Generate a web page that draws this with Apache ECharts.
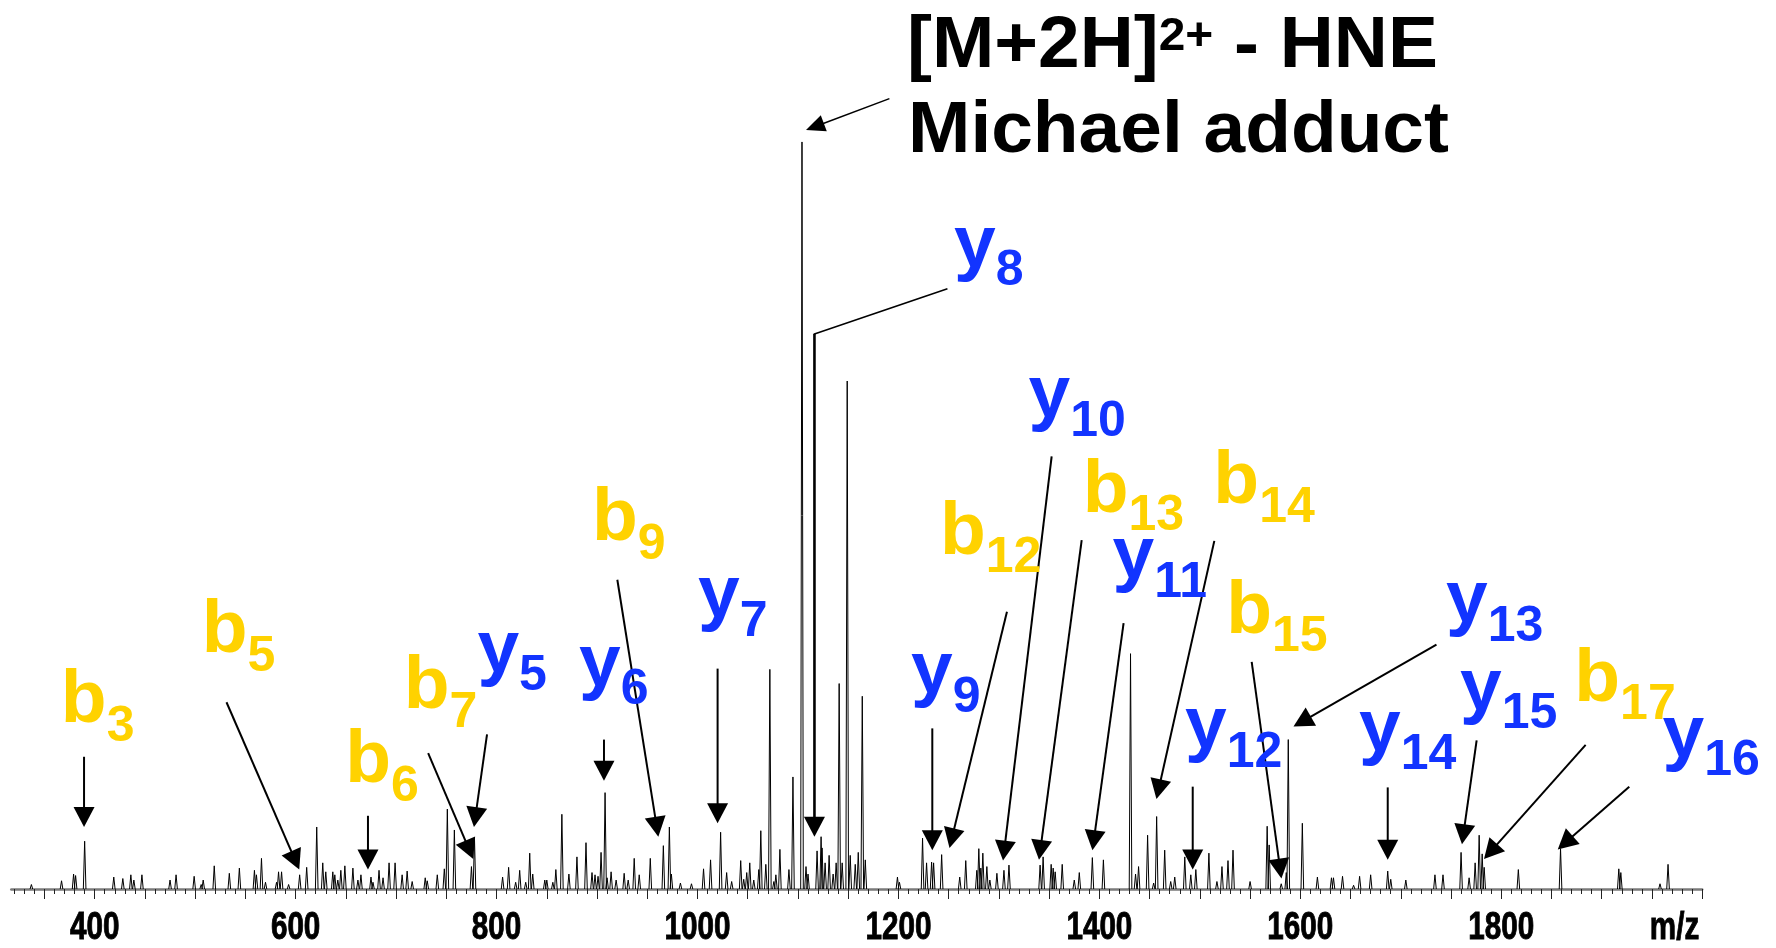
<!DOCTYPE html>
<html>
<head>
<meta charset="utf-8">
<title>MS/MS spectrum</title>
<script src="https://cdn.jsdelivr.net/npm/echarts@6.0.0/dist/echarts.min.js"></script>
<style>
html,body{margin:0;padding:0;background:#ffffff;}
#chart{width:1776px;height:948px;}
</style>
</head>
<body>
<div id="chart"></div>
<script>
// ---------------- data ----------------
const peakMz = [
  337,367,379,381,390,419,428,436,439,447,
  475,481,499,506,508,519,534,544,559,561,
  566,570,581,583,586,593,604,611,621,627,
  630,637,639,642,645,649,657,662,665,675,
  677,683,687,693,699,706,711,716,729,731,
  741,748,751,758,775,778,806,812,819,823,
  829,833,836,848,850,856,859,865,872,880,
  889,895,898,901,904,908,910,914,919,927,
  931,937,942,953,966,972,974,983,994,1006,
  1013,1023,1029,1034,1043,1046,1049,1052,1056,1061,
  1063,1068,1072,1076,1078,1082,1091,1095,1104,1108,
  1110,1119,1123,1124,1127,1131,1135,1138,1141,1144,
  1149,1152,1157,1160,1164,1167,1199,1201,1224,1228,
  1233,1235,1243,1261,1267,1278,1280,1282,1284,1288,
  1291,1298,1305,1310,1341,1344,1352,1354,1356,1363,
  1375,1380,1393,1404,1431,1436,1439,1448,1454,1457,
  1465,1471,1475,1485,1491,1496,1509,1517,1522,1528,
  1533,1550,1567,1569,1581,1586,1588,1602,1617,1631,
  1633,1642,1653,1659,1670,1687,1690,1705,1734,1742,
  1760,1768,1774,1778,1781,1783,1817,1859,1917,1919,
  1958,1966
];
const peakInt = [
  0.6,1.1,2.0,1.8,6.4,1.6,1.4,1.9,1.2,1.9,
  1.2,1.9,1.7,0.6,1.2,3.1,2.1,2.8,2.5,1.9,
  4.1,0.9,0.9,2.3,2.3,0.6,1.9,2.9,8.3,3.5,
  2.3,2.3,1.9,1.2,2.5,3.1,2.8,1.2,1.9,1.6,
  0.9,2.5,1.5,3.5,3.5,1.9,2.4,1.0,1.5,1.1,
  1.9,2.7,10.7,7.9,3.0,6.9,1.6,2.9,0.9,2.5,
  0.9,4.8,2.0,1.2,1.2,0.9,2.6,10.0,2.0,4.3,
  6.2,2.2,1.9,1.7,4.9,12.9,1.5,2.3,1.2,2.1,
  1.2,4.1,1.9,4.1,5.8,8.3,2.0,0.8,0.7,2.7,
  3.9,7.6,2.2,1.0,3.8,1.3,2.2,3.5,1.2,2.6,
  7.8,3.3,29.4,1.0,1.9,5.3,2.6,15.0,100,3.0,
  2.0,5.1,7.0,5.5,3.5,4.5,2.0,3.5,27.5,3.5,
  68,4.5,3.3,4.9,25.8,3.9,1.6,0.9,6.8,3.5,
  3.6,3.5,4.6,1.6,3.8,2.5,5.4,2.8,4.8,3.0,
  1.2,2.1,2.5,3.2,3.2,4.3,3.3,2.8,2.3,3.3,
  1.2,2.2,4.2,3.9,31.5,2.0,3.0,7.2,0.8,9.7,
  5.2,1.0,1.6,4.3,1.9,2.6,4.8,1.0,3.0,3.8,
  5.2,1.0,8.4,5.9,0.7,2.2,20.0,8.8,1.6,1.5,
  1.5,1.7,0.5,1.7,1.9,2.4,1.3,1.2,1.9,1.9,
  4.9,1.5,3.5,7.2,4.7,2.9,2.6,5.4,2.7,2.2,
  0.7,3.3
];

// fragment-ion labels: name, anchor (m/z, relative intensity of the text baseline)
const ionNames    = ['b3','b5','b6','b7','y5','y6','b9','y7','y8','y9','b12','y10','b13','y11','b14','b15','y12','y13','y14','y15','b17','y16'];
const ionLabelMz  = [366.3,506.5,649.3,707.6,780.9,882.0,895.0,1000.5,1255.3,1212.5,1241.3,1329.4,1383.4,1413.0,1513.4,1526.2,1485.2,1745.0,1658.4,1758.9,1872.7,1960.5];
const ionLabelInt = [21.6,31.0,13.6,23.5,28.4,26.5,46.0,35.7,82.6,25.5,44.2,62.5,49.8,40.9,50.9,33.6,18.1,35.0,17.8,23.3,24.5,17.0];

// annotation arrows (from -> to, in m/z and relative intensity)
const arrowNames   = ['b3','b5','b6','b7','y5','y6','b9','y7','MH','y8-leader','y8','y9','b12','y10','b13','y11','b14','b15','y12','y13','y14','y15','b17','y16'];
const arrowFromMz  = [389.4,531.2,672.0,731.9,790.5,906.9,920.2,1020.0,1191.0,1248.0,1116.4,1233.7,1308.0,1352.5,1382.4,1424.1,1514.4,1551.6,1492.9,1735.5,1687.0,1775.5,1884.0,1927.4];
const arrowFromInt = [17.7,25.0,9.8,18.2,20.7,20.0,41.4,29.5,105.8,80.3,74.3,21.5,37.1,57.9,46.7,35.6,46.6,30.4,13.7,32.7,13.6,19.9,19.3,13.7];
const arrowToMz    = [389.4,603.6,672.0,776.8,777.5,906.9,961.0,1020.0,1108.0,1116.4,1116.4,1233.7,1250.8,1304.1,1339.9,1393.1,1456.8,1581.2,1492.9,1593.2,1687.0,1760.9,1782.8,1856.2];
const arrowToInt   = [8.3,2.6,2.6,4.0,8.3,14.5,7.0,8.8,101.6,74.3,7.0,5.2,5.5,3.8,3.9,5.2,12.05,1.4,2.6,21.75,3.9,6.0,4.0,5.3];

const tickLabelValues = [400,600,800,1000,1200,1400,1600,1800];
const titleLine1 = ['[M+2H]', '2+', ' - HNE'];
const titleLine2 = 'Michael adduct';
const axisName = 'm/z';

// ---------------- style ----------------
const FONT = '"Liberation Sans", Arial, Helvetica, sans-serif';
const GOLD = '#FFD200', BLUE = '#1234FF';
const MAIN = 75, SUB = 50, SUBDROP = 17;
const MID = 0.8465;            // baseline offset below the top of a one-line box
const X_MIN = 317, X_MAX = 2000, Y_MAX = 119;
const AXF = 38, AX_SCALE = 0.78, AX_BASE = 53;   // condensed axis text

const mctx = document.createElement('canvas').getContext('2d');
function textW(t, size) { mctx.font = 'bold ' + size + 'px ' + FONT; return mctx.measureText(t).width; }
function txt(t, x, baseline, size, color, align, strokeW) {
  align = align || 'left';
  const st = {
    text: t, x: x, y: baseline - MID * size,
    font: 'bold ' + size + 'px ' + FONT,
    fill: color, textFill: color,
    align: align, textAlign: align,
    verticalAlign: 'top', textVerticalAlign: 'top',
    lineHeight: size, textLineHeight: size
  };
  if (strokeW) { st.stroke = color; st.lineWidth = strokeW; st.textStroke = color; st.textStrokeWidth = strokeW; }
  return { type: 'text', style: st };
}

// spectrum profile: each peak drawn as a narrow triangle on the baseline
const HALF = 1.3;
const spectrum = [];
peakMz.forEach(function (m, i) {
  spectrum.push([m - HALF, 0], [m, peakInt[i]], [m + HALF, 0], [m + HALF, '-']);
});

const majorTicks = []; for (let v = 350; v <= X_MAX; v += 50) majorTicks.push(v);
const minorTicks = []; for (let v = 320; v <= X_MAX; v += 10) if (v % 50) minorTicks.push(v);

const arrowData = arrowNames.map(function (n, i) { return [arrowFromMz[i], arrowFromInt[i], arrowToMz[i], arrowToInt[i], i]; });
const labelData = ionNames.map(function (n, i) { return [ionLabelMz[i], ionLabelInt[i], i]; });
const axisTextData = tickLabelValues.map(function (v) { return [v, 0, 0]; }).concat([[X_MAX, 0, 1]]);

// heading layout (pixels)
const T1X = 907, T1B = 71.7, T2B = 156.7, TF = 72, TS = 46, TSB = 53, TSCALE = 1.04;
const w1 = textW(titleLine1[0], TF);
const w2 = textW(titleLine1[1], TS);

const chart = echarts.init(document.getElementById('chart'), null, { renderer: 'canvas' });
chart.setOption({
  animation: false,
  backgroundColor: '#ffffff',
  grid: { left: 11.3, right: 73.8, top: 0, bottom: 59, containLabel: false },
  xAxis: [
    {
      type: 'value', min: X_MIN, max: X_MAX, position: 'bottom',
      axisLine: { show: true, onZero: false, lineStyle: { color: '#7a7a7a', width: 2.5 } },
      axisTick: { show: true, customValues: majorTicks, length: 10, lineStyle: { color: '#222', width: 1 } },
      axisLabel: { show: false },
      splitLine: { show: false }
    },
    {
      type: 'value', min: X_MIN, max: X_MAX, position: 'bottom',
      axisLine: { show: false },
      axisTick: { show: true, customValues: minorTicks, length: 5, lineStyle: { color: '#222', width: 1 } },
      axisLabel: { show: false },
      splitLine: { show: false }
    }
  ],
  yAxis: { type: 'value', min: 0, max: Y_MAX, show: false },
  graphic: {
    elements: [
      {
        type: 'group', x: T1X, y: 0, scaleX: TSCALE,
        children: [
          txt(titleLine1[0], 0, T1B, TF, '#000'),
          txt(titleLine1[1], w1, TSB, TS, '#000'),
          txt(titleLine1[2], w1 + w2, T1B, TF, '#000'),
          txt(titleLine2, 1, T2B, TF, '#000')
        ]
      }
    ]
  },
  series: [
    {
      type: 'line', xAxisIndex: 0, yAxisIndex: 0, data: spectrum,
      showSymbol: false, symbol: 'none', connectNulls: false, silent: true,
      lineStyle: { color: '#000', width: 1 }, z: 2
    },
    {
      // axis tick labels and axis name, drawn condensed at the tick positions
      type: 'custom', xAxisIndex: 0, yAxisIndex: 0, data: axisTextData, silent: true, z: 5,
      renderItem: function (params, api) {
        const v = api.value(0);
        const isName = api.value(2) === 1;
        const p = api.coord([v, 0]);
        const el = txt(isName ? axisName : String(v), 0, AX_BASE, AXF, '#000', isName ? 'right' : 'center', 0.9);
        el.x = isName ? p[0] - 3 : p[0];
        el.y = p[1];
        el.scaleX = AX_SCALE;
        return el;
      }
    },
    {
      type: 'custom', xAxisIndex: 0, yAxisIndex: 0, data: arrowData, silent: true, z: 3,
      renderItem: function (params, api) {
        const i = api.value(4);
        const name = arrowNames[i];
        const p1 = api.coord([api.value(0), api.value(1)]);
        const p2 = api.coord([api.value(2), api.value(3)]);
        if (name === 'y8-leader') {
          return { type: 'line', shape: { x1: p1[0], y1: p1[1], x2: p2[0], y2: p2[1] },
                   style: { stroke: '#000', lineWidth: 1.6, lineCap: 'square' } };
        }
        const thin = name === 'MH';
        const L = thin ? 19 : 20, W = thin ? 17 : 21;
        const lw = thin ? 1.5 : (name === 'y8' ? 2.6 : 2);
        const dx = p2[0] - p1[0], dy = p2[1] - p1[1];
        const len = Math.sqrt(dx * dx + dy * dy);
        const ux = dx / len, uy = dy / len;
        const bx = p2[0] - ux * L, by = p2[1] - uy * L;
        return {
          type: 'group',
          children: [
            { type: 'line', shape: { x1: p1[0], y1: p1[1], x2: bx + ux * 2, y2: by + uy * 2 },
              style: { stroke: '#000', lineWidth: lw } },
            { type: 'polygon',
              shape: { points: [[p2[0], p2[1]], [bx - uy * W / 2, by + ux * W / 2], [bx + uy * W / 2, by - ux * W / 2]] },
              style: { fill: '#000' } }
          ]
        };
      }
    },
    {
      type: 'custom', xAxisIndex: 0, yAxisIndex: 0, data: labelData, silent: true, z: 4,
      renderItem: function (params, api) {
        const i = api.value(2);
        const nm = ionNames[i];
        const letter = nm.charAt(0), sub = nm.slice(1);
        const col = letter === 'b' ? GOLD : BLUE;
        const p = api.coord([api.value(0), api.value(1)]);
        const w = textW(letter, MAIN);
        return {
          type: 'group',
          children: [
            txt(letter, p[0], p[1], MAIN, col),
            txt(sub, p[0] + w, p[1] + SUBDROP, SUB, col)
          ]
        };
      }
    }
  ]
});
</script>
</body>
</html>
